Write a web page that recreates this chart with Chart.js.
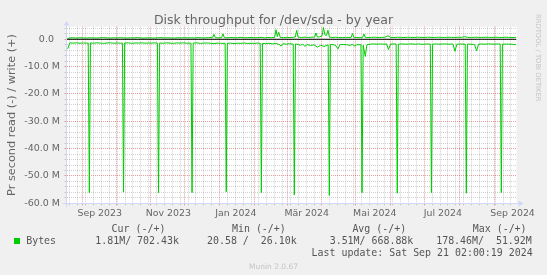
<!DOCTYPE html>
<html>
<head>
<meta charset="utf-8">
<script src="https://cdn.jsdelivr.net/npm/chart.js@4.4.1/dist/chart.umd.min.js"></script>
<style>
html,body{margin:0;padding:0;background:#f0f0f0;}
#wrap{position:relative;width:547px;height:275px;overflow:hidden;background:#f0f0f0;}
#c{position:absolute;left:0;top:0;}
.lg{position:absolute;white-space:pre;font-family:'DejaVu Sans Mono',monospace;font-size:9.93px;line-height:12px;color:#555;}
.box{position:absolute;width:6px;height:6px;background:#00cc00;}
#rrd{position:absolute;writing-mode:vertical-rl;font-family:'DejaVu Sans',sans-serif;font-size:6.8px;line-height:8px;color:#c4c4c4;white-space:pre;}
#munin{position:absolute;left:0;width:547px;text-align:center;font-family:'DejaVu Sans',sans-serif;font-size:7.5px;line-height:9px;color:#c4c4c4;}
</style>
</head>
<body>
<div id="wrap">
  <canvas id="c" width="547" height="275"></canvas>
  <div id="rrd"></div>
  <div id="munin"></div>
</div>
<script>
// ---------- data (x = days since 2023-09-01, y = MB per second) ----------
const chartTitle = 'Disk throughput for /dev/sda - by year';
const yTitle = 'Pr second read (-) / write (+)';
const seriesName = 'Bytes';

const xMin = -14, xMax = 386;
const yMin = -60, yMax = 4.6;

const monthStartDays = [0, 30, 61, 91, 122, 153, 182, 213, 243, 274, 304, 335, 366];
const firstMonday = -11; // 2023-08-21
const xLabelDays = [15.5, 76.5, 136.5, 199.5, 260, 320.5, 382.5];
const xLabels = ['Sep 2023', 'Nov 2023', 'Jan 2024', 'Mär 2024', 'Mai 2024', 'Jul 2024', 'Sep 2024'];

const yLabelValues = [0, -10, -20, -30, -40, -50, -60];
const yLabels = ['0.0  ', '-10.0 M', '-20.0 M', '-30.0 M', '-40.0 M', '-50.0 M', '-60.0 M'];
const yMinorStep = 2;

// read (negative) series: [day, MB/s]
const readPts = [
  [-13,-3.5],[-11,-1.3],[-8,-1.4],[-5,-1.3],[-2,-1.45],[1,-1.35],[4,-1.4],[5.3,-1.35],[6.3,-56.1],[7.3,-1.3],
  [10,-1.45],[13,-1.3],[16,-1.4],[19,-1.5],[22,-1.35],[25,-1.3],[28,-1.45],[31,-1.35],[34,-1.4],[35.7,-1.4],[36.7,-55.8],[37.7,-1.35],
  [41,-1.3],[44,-1.5],[47,-1.35],[50,-1.4],[53,-1.3],[56,-1.45],[59,-1.35],[62,-1.4],[65,-1.3],[66.8,-1.4],[67.8,-56.1],[68.8,-1.35],
  [72,-1.45],[75,-1.3],[78,-1.4],[81,-1.5],[84,-1.35],[87,-1.4],[90,-1.3],[93,-1.45],[96.6,-1.4],[97.6,-56.1],[98.6,-1.4],
  [102,-1.3],[105,-1.5],[108,-1.4],[111,-1.35],[114,-1.45],[117,-1.6],[120,-1.4],[123,-1.5],[127,-1.45],[128,-55.8],[129,-1.5],
  [132,-1.4],[135,-1.6],[138,-1.45],[141,-1.5],[144,-1.35],[147,-1.55],[150,-1.45],[153,-1.5],[156,-1.4],[158.2,-1.5],[159.2,-56.1],[160.2,-1.5],
  [163,-1.6],[166,-1.45],[169,-1.7],[172,-1.5],[175,-1.9],[176.7,-2.5],[178.5,-1.6],[181,-1.8],[184,-1.6],[187.5,-1.8],[188.5,-56.9],[189.5,-1.7],
  [192,-1.9],[194,-2.2],[196,-1.8],[198,-2.6],[200,-1.9],[203,-2.3],[206,-2.0],[209,-2.9],[212,-2.2],[215,-2.6],[218.6,-2.0],[219.6,-57.1],[220.6,-1.9],
  [223,-2.0],[225,-2.2],[227.3,-3.5],[229,-2.0],[232,-1.9],[235,-2.0],[238,-2.2],[240,-1.9],[242.4,-2.5],[244,-2.0],[247.7,-2.0],[248.7,-56.1],[249.7,-2.2],[251.6,-6.3],[253,-2.0],
  [256,-1.8],[259,-1.7],[262,-1.8],[265,-1.7],[268,-1.8],[270.5,-1.7],[272.2,-3.8],[274,-1.8],[277,-1.7],[279,-1.75],[280,-56.3],[281,-1.8],
  [284,-1.7],[287,-1.8],[290,-1.75],[293,-1.7],[296,-1.8],[299,-1.7],[302,-1.85],[305,-1.75],[309.4,-1.75],[310.4,-56.1],[311.4,-1.8],
  [314,-1.7],[317,-1.8],[320,-1.75],[323,-1.7],[326,-1.8],[329.5,-1.75],[331.3,-4.4],[333,-1.8],[336,-1.75],[340.4,-1.8],[341.4,-56.3],[342.4,-1.75],
  [345,-1.8],[348.7,-1.9],[350.5,-4.2],[352.3,-1.8],[355,-1.75],[358,-1.8],[361,-1.7],[364,-1.75],[367,-1.8],[369,-1.7],[371.5,-1.75],[372.5,-56.1],[373.5,-1.8],
  [377,-1.75],[380,-1.8],[383,-1.85],[385.5,-2.0]
];

// write (positive) series: [day, MB/s]
const writePts = [
  [-13,0.25],[-11,0.5],[-8,0.55],[-5,0.45],[-2,0.55],[1,0.5],[4,0.45],[7,0.55],[10,0.5],[13,0.45],
  [16,0.55],[19,0.6],[22,0.5],[25,0.45],[28,0.55],[31,0.5],[34,0.6],[37,0.5],[40,0.45],[43,0.55],
  [46,0.5],[49,0.6],[52,0.5],[55,0.45],[58,0.55],[61,0.5],[64,0.45],[67,0.55],[70,0.6],[73,0.5],
  [76,0.55],[79,0.5],[82,0.45],[85,0.55],[88,0.5],[91,0.6],[94,0.5],[97,0.55],[100,0.5],[103,0.6],
  [106,0.55],[109,0.5],[112,0.6],[115.9,0.6],[117.1,1.8],[118.3,0.6],[121,0.55],[123.9,0.6],[125.1,2.0],[126.3,0.6],
  [129,0.55],[132,0.65],[135,0.55],[138,0.6],[141,0.7],[144,0.55],[147,0.6],[150,0.65],[153,0.55],[156,0.6],
  [159,0.7],[162,0.55],[165,0.65],[168,0.6],[171,0.7],[172.2,3.5],[173.4,1.0],[174.6,2.6],[176,0.7],[179,0.6],
  [182,0.7],[185,0.6],[188,0.75],[189.4,0.8],[190.6,3.3],[191.8,0.8],[195,0.65],[198,0.8],[201,0.65],[204,0.75],
  [206.6,0.8],[207.8,2.3],[209,0.8],[211,0.9],[213.2,1.3],[214.4,4.3],[215.7,1.6],[217.1,1.4],[218.4,3.3],[219.7,0.8],
  [222,0.65],[225,0.75],[228,0.65],[231,0.6],[234,0.7],[237,0.65],[239,0.7],[240.2,2.1],[241.4,0.7],[244,0.65],
  [247,0.6],[249.2,0.65],[250.4,1.9],[251.6,0.7],[254,0.65],[257,0.7],[260,0.75],[263,0.65],[266,0.7],[269,0.75],
  [271.8,1.3],[274,0.7],[277,0.65],[280,0.75],[283,0.7],[286,0.65],[289,0.75],[292,0.7],[295,0.65],[298,0.75],
  [301,0.7],[304,0.65],[307,0.75],[310,0.7],[313,0.65],[316,0.75],[319,0.7],[322,0.65],[325,0.75],[328,0.7],
  [331,0.65],[334,0.75],[337,0.7],[340,0.95],[343,0.7],[346,0.65],[349,0.75],[352,0.7],[355,0.65],[358,0.75],
  [361,0.7],[364,0.65],[367,0.75],[370,0.7],[373,0.65],[376,0.75],[379,0.7],[382,0.65],[385.5,0.7]
];

const legendHeaders = ['Cur (-/+)', 'Min (-/+)', 'Avg (-/+)', 'Max (-/+)'];
const legendValues = ['1.81M/ 702.43k', '20.58 /  26.10k', '3.51M/ 668.88k', '178.46M/  51.92M'];
const lastUpdate = 'Last update: Sat Sep 21 02:00:19 2024';
const watermark = 'RRDTOOL / TOBI OETIKER';
const version = 'Munin 2.0.67';

// ---------- styles ----------
const GREEN = '#00cc00';
const AXIS = '#CFD6F8';
const TEXT = '#666666';
const MAJOR = 'rgba(200,40,40,0.45)';
const MINOR = 'rgba(140,140,140,0.4)';

// ---------- legend / text overlays ----------
const wrap = document.getElementById('wrap');
function addText(cls, txt, left, top) {
  const d = document.createElement('div');
  d.className = cls; d.textContent = txt;
  d.style.left = left + 'px'; d.style.top = top + 'px';
  wrap.appendChild(d);
  return d;
}
const headerLeft = [111.6, 232, 352.4, 472.8];
const valueLeft = [95.3, 207, 329.7, 436.2];
legendHeaders.forEach((t, i) => addText('lg', t, headerLeft[i], 223.2));
const sq = document.createElement('div'); sq.className = 'box';
sq.style.left = '14px'; sq.style.top = '238px'; wrap.appendChild(sq);
addText('lg', seriesName, 26.2, 235.4);
legendValues.forEach((t, i) => addText('lg', t, valueLeft[i], 235.4));
addText('lg', lastUpdate, 311.6, 246.9);
const rrd = document.getElementById('rrd');
rrd.textContent = watermark; rrd.style.left = '534px'; rrd.style.top = '13.7px';
const mu = document.getElementById('munin');
mu.textContent = version; mu.style.top = '262.3px';

// ---------- ticks ----------
const xTicks = [];
monthStartDays.forEach(v => { if (v > xMin && v < xMax) xTicks.push({value: v, kind: 'major'}); });
for (let d = firstMonday; d < xMax; d += 7) {
  if (d > xMin && !monthStartDays.includes(d)) xTicks.push({value: d, kind: 'minor'});
}
xLabelDays.forEach((v, i) => xTicks.push({value: v, kind: 'label', text: xLabels[i]}));
xTicks.sort((a, b) => a.value - b.value);

const yTicks = [];
for (let v = yMin; v <= yMax; v += yMinorStep) {
  const idx = yLabelValues.indexOf(v);
  yTicks.push(idx >= 0 ? {value: v, kind: 'major', text: yLabels[idx]} : {value: v, kind: 'minor'});
}

function gridColor(ctx) {
  const t = ctx.tick;
  if (!t) return 'rgba(0,0,0,0)';
  if (t.kind === 'major') return MAJOR;
  if (t.kind === 'minor') return MINOR;
  return 'rgba(0,0,0,0)';
}

// ---------- plugin: canvas background, axis extensions & arrows ----------
const muninFrame = {
  id: 'muninFrame',
  beforeDraw(chart) {
    const {ctx, chartArea: a} = chart;
    ctx.save();
    ctx.fillStyle = '#ffffff';
    ctx.fillRect(a.left, a.top, a.right - a.left, a.bottom - a.top);
    ctx.restore();
  },
  afterDraw(chart) {
    const {ctx, chartArea: a} = chart;
    const bx = Math.round(a.bottom) + 0.5;
    const lx = Math.round(a.left) - 0.5;
    ctx.save();
    ctx.strokeStyle = AXIS; ctx.fillStyle = AXIS; ctx.lineWidth = 1;
    ctx.beginPath();
    ctx.moveTo(a.left - 4, bx); ctx.lineTo(a.right + 3, bx);
    ctx.moveTo(lx, a.bottom + 4); ctx.lineTo(lx, a.top - 2);
    ctx.stroke();
    ctx.beginPath();
    ctx.moveTo(a.right + 2, bx - 3); ctx.lineTo(a.right + 7, bx); ctx.lineTo(a.right + 2, bx + 3); ctx.closePath();
    ctx.fill();
    ctx.beginPath();
    ctx.moveTo(lx - 3, a.top - 1.5); ctx.lineTo(lx, a.top - 5.5); ctx.lineTo(lx + 3, a.top - 1.5); ctx.closePath();
    ctx.fill();
    ctx.restore();
  }
};

Chart.defaults.font.family = "'DejaVu Sans', sans-serif";
Chart.defaults.color = TEXT;

new Chart(document.getElementById('c'), {
  type: 'line',
  data: {
    datasets: [
      {
        label: 'zero',
        data: [{x: xMin, y: 0}, {x: xMax, y: 0}],
        borderColor: '#000000', borderWidth: 1, pointRadius: 0
      },
      {
        label: seriesName + ' write',
        data: writePts.map(p => ({x: p[0], y: p[1]})),
        borderColor: GREEN, borderWidth: 1, pointRadius: 0, tension: 0
      },
      {
        label: seriesName + ' read',
        data: readPts.map(p => ({x: p[0], y: p[1]})),
        borderColor: GREEN, borderWidth: 1, pointRadius: 0, tension: 0
      }
    ]
  },
  options: {
    responsive: false,
    animation: false,
    devicePixelRatio: 1,
    layout: {padding: {left: 0, right: 0, top: 0, bottom: 51.7}},
    plugins: {
      legend: {display: false},
      tooltip: {enabled: false},
      title: {
        display: true, text: chartTitle, color: TEXT,
        font: {size: 12.5, lineHeight: 1, weight: 'normal'},
        padding: {top: 14.2, bottom: 0}
      }
    },
    scales: {
      x: {
        type: 'linear', min: xMin, max: xMax,
        afterBuildTicks: s => { s.ticks = xTicks.map(t => Object.assign({}, t)); },
        afterFit: s => { s.height = 20; },
        ticks: {
          autoSkip: false, maxRotation: 0, minRotation: 0, padding: 3,
          font: {size: 9.4}, color: TEXT,
          callback: (v, i, ticks) => (ticks[i] && ticks[i].kind === 'label') ? ticks[i].text : ''
        },
        grid: {color: gridColor, tickColor: gridColor, tickLength: 2, lineWidth: 1},
        border: {color: AXIS, width: 1, dash: [1, 1]}
      },
      y: {
        type: 'linear', min: yMin, max: yMax,
        afterBuildTicks: s => { s.ticks = yTicks.map(t => Object.assign({}, t)); },
        afterFit: s => { s.width = 66.5; },
        ticks: {
          autoSkip: false, padding: 4.5,
          font: {size: 9.5}, color: TEXT,
          callback: (v, i, ticks) => (ticks[i] && ticks[i].kind === 'major') ? ticks[i].text : ''
        },
        title: {
          display: true, text: yTitle, color: TEXT,
          font: {size: 11.3}, padding: {top: 4.9, bottom: 0}
        },
        grid: {color: gridColor, tickColor: gridColor, tickLength: 2, lineWidth: 1},
        border: {color: AXIS, width: 1, dash: [1, 1]}
      },
      yRight: {
        type: 'linear', position: 'right', min: yMin, max: yMax,
        afterFit: s => { s.width = 30.5; },
        ticks: {display: false},
        grid: {display: false, drawOnChartArea: false, drawTicks: false},
        border: {display: false}
      }
    }
  },
  plugins: [muninFrame]
});
</script>
</body>
</html>
